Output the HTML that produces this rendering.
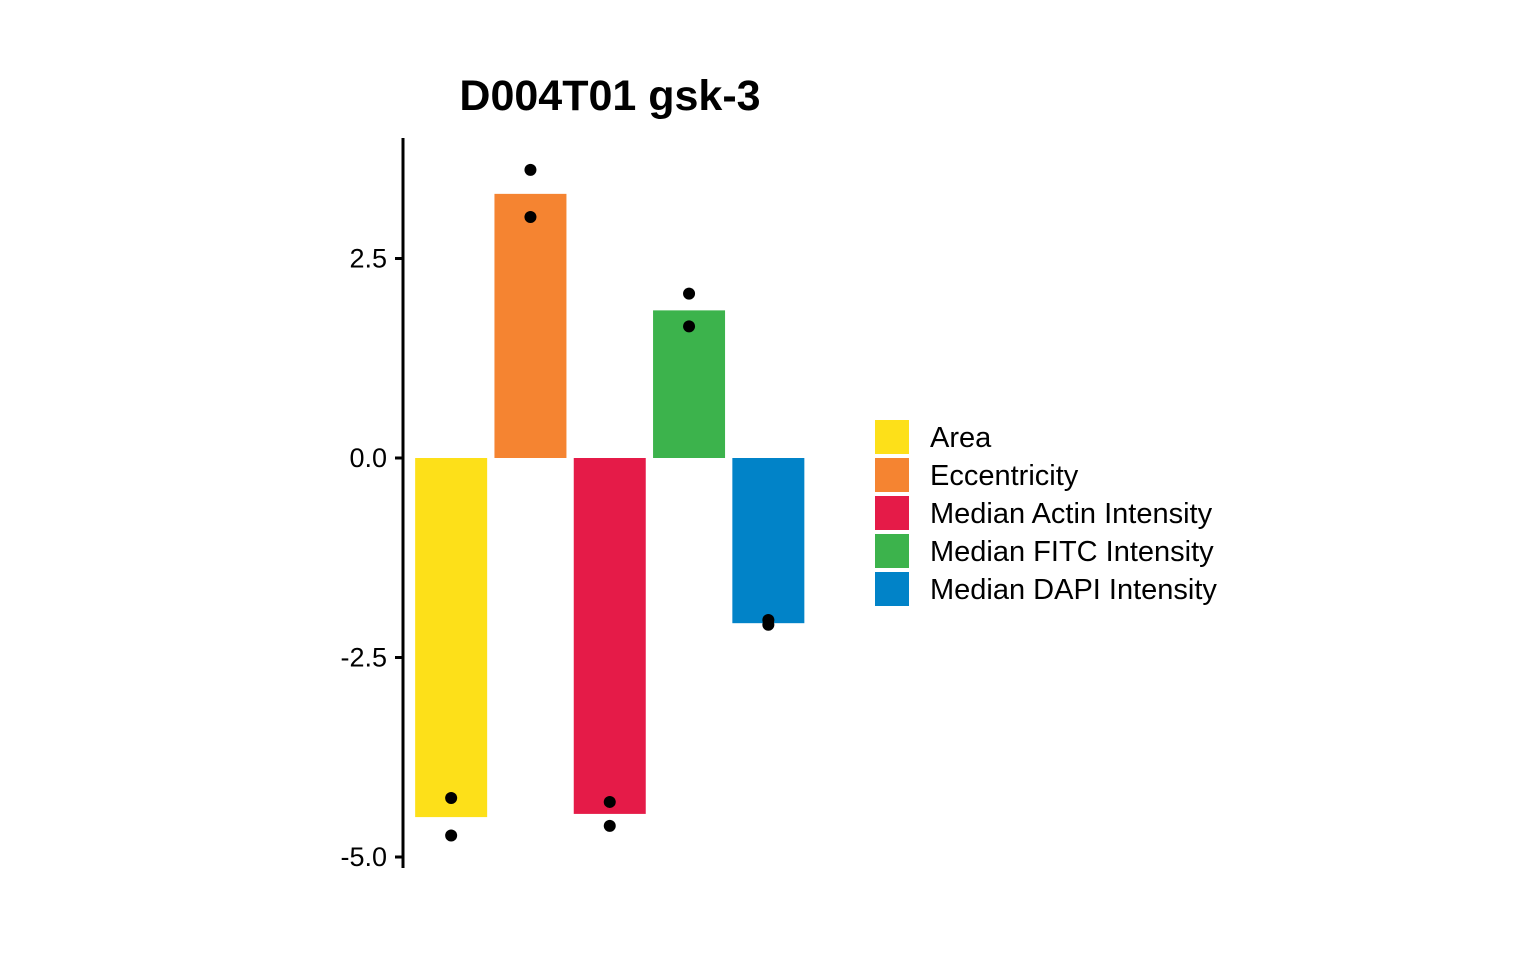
<!DOCTYPE html>
<html><head><meta charset="utf-8"><style>
body{margin:0;background:#fff;}
svg{display:block;font-family:"Liberation Sans",Arial,sans-serif;}
</style></head><body>
<svg id="chart" width="1536" height="960">
<text x="610" y="110" text-anchor="middle" font-size="43" font-weight="bold">D004T01 gsk-3</text>
<g id="bars"></g><g id="points"></g><g id="axis"></g><g id="legend"></g>
</svg>
<script>
const categories=["Area","Eccentricity","Median Actin Intensity","Median FITC Intensity","Median DAPI Intensity"];
const colors=["#FDE019","#F58431","#E51B48","#3CB34C","#0183C8"];
const barValues=[-4.5,3.31,-4.46,1.85,-2.07];
const pointsA=[-4.26,3.61,-4.31,2.06,-2.03];
const pointsB=[-4.73,3.02,-4.61,1.65,-2.09];
const yTicks=[2.5,0,-2.5,-5];
const yTickLabels=["2.5","0.0","-2.5","-5.0"];
const NS="http://www.w3.org/2000/svg";
const y=v=>458-v*79.8;
const step=79.3, x0=411.5;
const xc=i=>x0+step*(i+0.5);
const bw=72;
function mk(t,a,p){const e=document.createElementNS(NS,t);for(const k in a)e.setAttribute(k,a[k]);document.getElementById(p).appendChild(e);return e;}
barValues.forEach((v,i)=>{
 const r=mk("rect",{x:xc(i)-bw/2,y:Math.min(y(v),y(0)),width:bw,height:Math.abs(y(v)-y(0)),fill:colors[i]},"bars");
 
 
});
[pointsA,pointsB].forEach((arr,s)=>arr.forEach((v,i)=>{
 const c=mk("circle",{cx:xc(i),cy:y(v),r:6,fill:"#000"},"points");
 
 
}));
const ax=mk("line",{x1:403,x2:403,y1:138,y2:868,stroke:"#000","stroke-width":3},"axis");


yTicks.forEach((t,i)=>{
 const l=mk("line",{x1:395,x2:403,y1:y(t),y2:y(t),stroke:"#000","stroke-width":3},"axis");
 
 
 const tx=mk("text",{x:387,y:y(t)+9,"text-anchor":"end","font-size":27},"axis");
 tx.textContent=yTickLabels[i];
 
 
});
categories.forEach((c,i)=>{
 const r=mk("rect",{x:875,y:420+i*38,width:34,height:34,fill:colors[i]},"legend");
 
 
 const t=mk("text",{x:930,y:447+i*38,"font-size":29},"legend");
 t.textContent=c;
 
 
});
</script>
</body></html>
